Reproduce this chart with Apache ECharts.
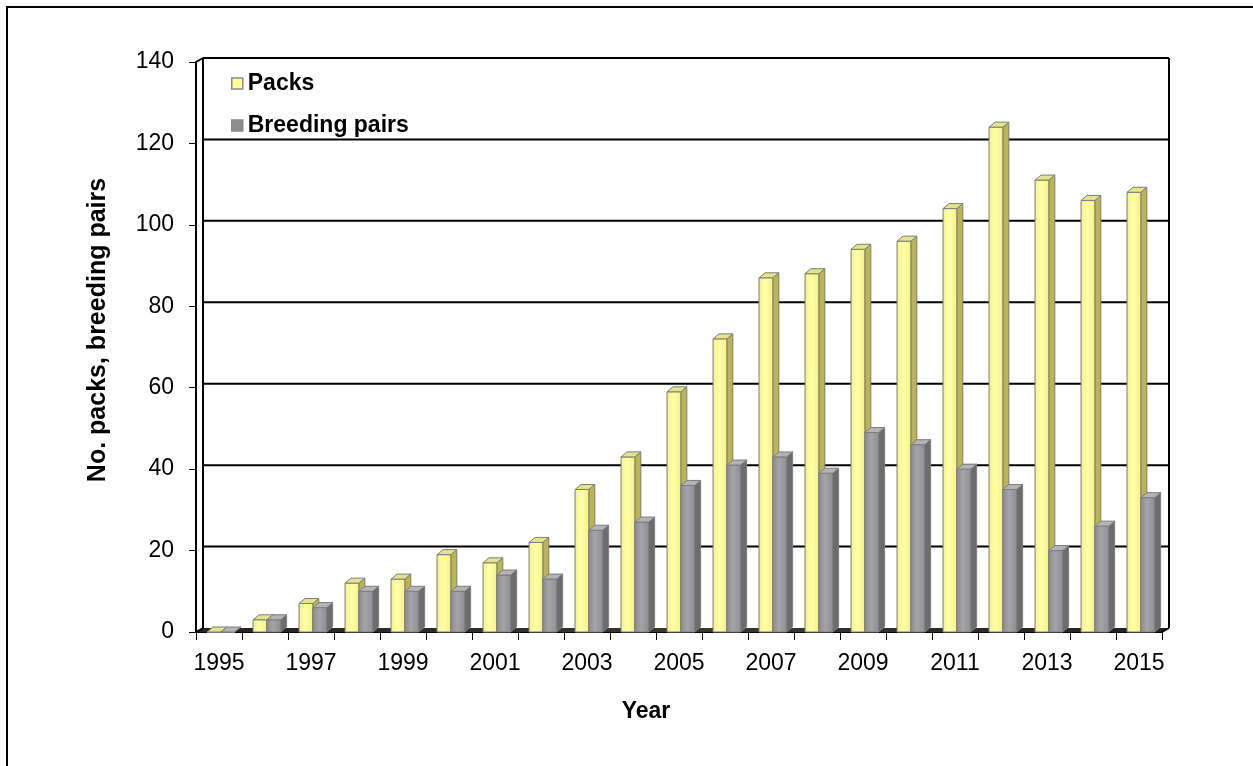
<!DOCTYPE html>
<html>
<head>
<meta charset="utf-8">
<title>Packs and breeding pairs, 1995–2015</title>
<script src="https://cdn.jsdelivr.net/npm/echarts@6/dist/echarts.min.js"></script>
<style>
  html, body { margin: 0; padding: 0; background: #fff; }
  #chart { width: 1253px; height: 766px; }
</style>
</head>
<body>
<div id="chart"></div>
<script>
// Years on the category axis
const years = ['1995','1996','1997','1998','1999','2000','2001','2002','2003','2004',
               '2005','2006','2007','2008','2009','2010','2011','2012','2013','2014','2015'];
// Number of packs per year
const packs = [0, 3, 7, 12, 13, 19, 17, 22, 35, 43, 59, 72, 87, 88, 94, 96, 104, 124, 111, 106, 108];
// Number of breeding pairs per year
const pairs = [0, 3, 6, 10, 10, 10, 14, 13, 25, 27, 36, 41, 43, 39, 49, 46, 40, 35, 20, 26, 33];
// Value-axis ticks (also used for the back-wall gridlines)
const yTicks = [0, 20, 40, 60, 80, 100, 120, 140];

const FONT = 'Liberation Sans, Arial, sans-serif';
// depth of the pseudo-3D walls and columns
const DX = 7, DY = 4;
const BDX = 6, BDY = 5;

const chart = echarts.init(document.getElementById('chart'), null, { renderer: 'canvas' });

// Back wall, side walls and floor of the 3D plot box
function renderWalls(params, api) {
  const cs = params.coordSys;
  const x0 = cs.x, x1 = cs.x + cs.width;
  const yTop = api.coord([0, yTicks[yTicks.length - 1]])[1];
  const yBot = api.coord([0, 0])[1];
  const children = [];
  // floor
  children.push({
    type: 'polygon',
    shape: { points: [[x0, yBot], [x0 + DX, yBot - DY], [x1 + DX, yBot - DY], [x1, yBot]] },
    style: {
      fill: new echarts.graphic.LinearGradient(0, 0, 1, 0, [
        { offset: 0, color: '#222' }, { offset: 0.5, color: '#3a3a30' }, { offset: 1, color: '#222' }
      ])
    }
  });
  // gridlines on the back wall
  yTicks.forEach(function (v) {
    if (v === 0) return;
    const y = api.coord([0, v])[1] - DY;
    children.push({
      type: 'line',
      shape: { x1: x0 + DX, y1: y, x2: x1 + DX, y2: y },
      style: { stroke: '#000', lineWidth: 2 }
    });
  });
  // left wall back edge and top connector
  children.push({ type: 'line', shape: { x1: x0 + DX, y1: yTop - DY, x2: x0 + DX, y2: yBot - DY }, style: { stroke: '#000', lineWidth: 2 } });
  children.push({ type: 'line', shape: { x1: x0, y1: yTop, x2: x0 + DX, y2: yTop - DY }, style: { stroke: '#000', lineWidth: 2 } });
  children.push({ type: 'line', shape: { x1: x0, y1: yBot, x2: x0 + DX, y2: yBot - DY }, style: { stroke: '#000', lineWidth: 1.5 } });
  // right wall edge and floor corner
  children.push({ type: 'line', shape: { x1: x1 + DX, y1: yTop - DY, x2: x1 + DX, y2: yBot - DY }, style: { stroke: '#000', lineWidth: 2 } });
  children.push({ type: 'line', shape: { x1: x1, y1: yBot, x2: x1 + DX, y2: yBot - DY }, style: { stroke: '#000', lineWidth: 2 } });
  return { type: 'group', children: children };
}

// 3D column: front face, side face and top face
function makeColumn(slot, front, side, top) {
  return function (params, api) {
    const idx = api.value(0);
    const val = api.value(1);
    const base = api.coord([idx, 0]);
    const peak = api.coord([idx, val]);
    const band = api.size([1, 0])[0];
    const w = band * 0.30;
    const x = base[0] - band / 2 + band * 0.24 + slot * w;
    const yb = base[1], yt = peak[1];
    const edge = { stroke: '#7d7d7d', lineWidth: 1 };
    return {
      type: 'group',
      children: [
        {
          type: 'polygon',
          shape: { points: [[x + w, yt], [x + w + BDX, yt - BDY], [x + w + BDX, yb - BDY], [x + w, yb]] },
          style: Object.assign({ fill: side }, edge)
        },
        {
          type: 'rect',
          shape: { x: x, y: yt, width: w, height: Math.max(yb - yt, 0.5) },
          style: Object.assign({ fill: front }, edge)
        },
        {
          type: 'polygon',
          shape: { points: [[x, yt], [x + BDX, yt - BDY], [x + w + BDX, yt - BDY], [x + w, yt]] },
          style: Object.assign({ fill: top }, edge)
        }
      ]
    };
  };
}

const yellowFront = new echarts.graphic.LinearGradient(0, 0, 1, 0, [
  { offset: 0, color: '#f3f08a' }, { offset: 0.45, color: '#ffffa4' }, { offset: 1, color: '#f4f08c' }
]);
const greyFront = new echarts.graphic.LinearGradient(0, 0, 1, 0, [
  { offset: 0, color: '#8a8a8c' }, { offset: 0.45, color: '#a4a4aa' }, { offset: 1, color: '#8e8e90' }
]);

const option = {
  animation: false,
  backgroundColor: '#fff',
  grid: { left: 196, right: 91, top: 62, bottom: 134 },
  legend: {
    orient: 'vertical',
    left: 226,
    top: 67,
    itemWidth: 11,
    itemHeight: 11,
    itemGap: 19,
    icon: 'rect',
    textStyle: { fontFamily: FONT, fontSize: 23, fontWeight: 'bold', color: '#000', lineHeight: 23, padding: [0, 0, 0, 0] },
    data: [
      { name: 'Packs', itemStyle: { color: '#ffff99', borderColor: '#8a8a8a', borderWidth: 1.5 } },
      { name: 'Breeding pairs', itemStyle: { color: '#8e8e8e', borderColor: '#8a8a8a', borderWidth: 1.5 } }
    ]
  },
  xAxis: {
    type: 'category',
    data: years,
    boundaryGap: true,
    axisLine: { lineStyle: { color: '#000', width: 2 } },
    axisTick: { show: true, interval: 0, length: 8, lineStyle: { color: '#000', width: 1 } },
    axisLabel: { interval: 1, fontFamily: FONT, fontSize: 23, color: '#000', margin: 20 },
    splitLine: { show: false }
  },
  yAxis: {
    type: 'value',
    min: 0,
    max: 140,
    interval: 20,
    axisLine: { show: true, lineStyle: { color: '#000', width: 2 } },
    axisTick: { show: true, length: 7, lineStyle: { color: '#000', width: 1 } },
    axisLabel: { fontFamily: FONT, fontSize: 23, color: '#000', margin: 22, padding: [6, 0, 0, 0] },
    splitLine: { show: false }
  },
  graphic: [
    {
      type: 'rect',
      shape: { x: 7, y: 7, width: 1270, height: 780 },
      style: { fill: 'none', stroke: '#000', lineWidth: 2 },
      silent: true
    },
    {
      type: 'text',
      x: 646, y: 712,
      style: { text: 'Year', fontFamily: FONT, fontSize: 23, fontWeight: 'bold', fill: '#000', align: 'center', verticalAlign: 'middle' }
    },
    {
      type: 'text',
      x: 98, y: 330,
      rotation: Math.PI / 2,
      style: { text: 'No. packs, breeding pairs', fontFamily: FONT, fontSize: 25, fontWeight: 'bold', fill: '#000', align: 'center', verticalAlign: 'middle' }
    }
  ],
  series: [
    {
      name: 'walls',
      type: 'custom',
      renderItem: renderWalls,
      data: [[0, 0]],
      silent: true,
      clip: false,
      z: 1
    },
    {
      name: 'Packs',
      type: 'custom',
      renderItem: makeColumn(0, yellowFront, '#bdb552', '#e6e48a'),
      data: packs.map(function (v, i) { return [i, v]; }),
      itemStyle: { color: '#ffff99' },
      clip: false,
      z: 3
    },
    {
      name: 'Breeding pairs',
      type: 'custom',
      renderItem: makeColumn(1, greyFront, '#6c6c6e', '#b4b4b6'),
      data: pairs.map(function (v, i) { return [i, v]; }),
      itemStyle: { color: '#8e8e8e' },
      clip: false,
      z: 4
    }
  ]
};

chart.setOption(option);
</script>
</body>
</html>
